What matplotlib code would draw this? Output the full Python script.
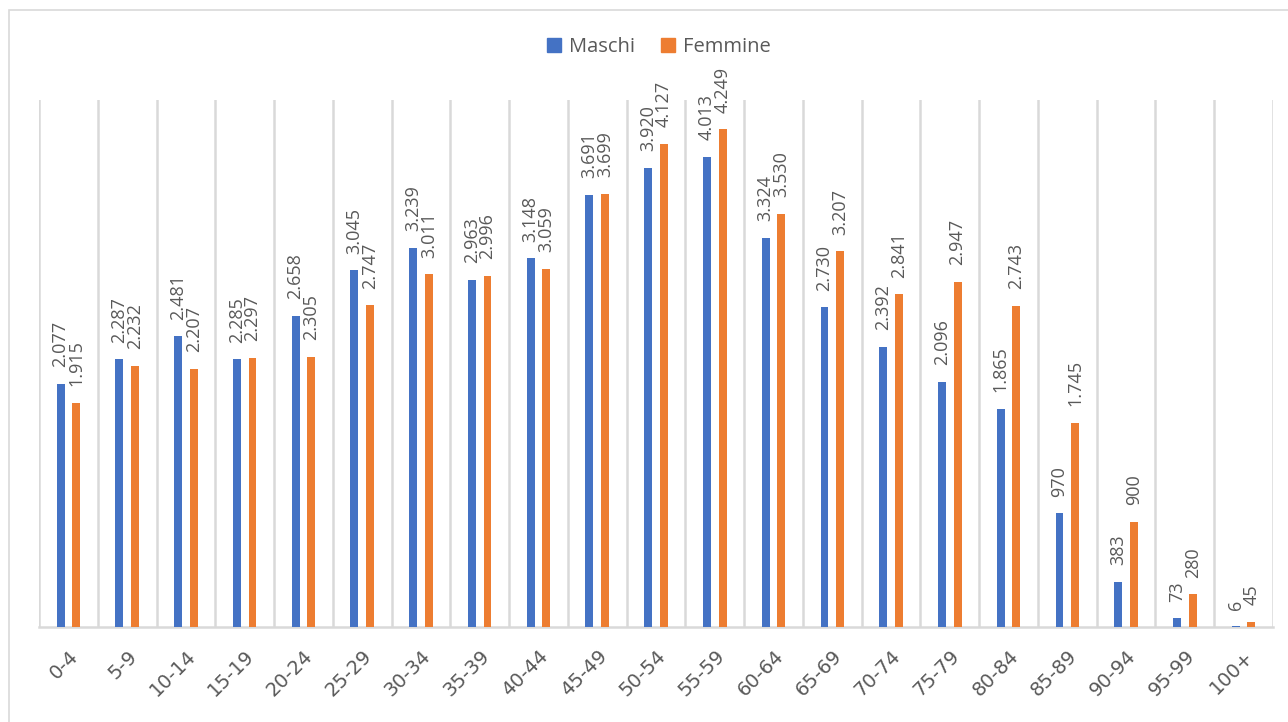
import matplotlib.pyplot as plt
import numpy as np
from matplotlib.patches import Rectangle, Patch

plt.rcParams['font.family'] = ['Open Sans', 'DejaVu Sans']

categories = ['0-4', '5-9', '10-14', '15-19', '20-24', '25-29', '30-34', '35-39',
              '40-44', '45-49', '50-54', '55-59', '60-64', '65-69', '70-74', '75-79',
              '80-84', '85-89', '90-94', '95-99', '100+']
maschi = [2077, 2287, 2481, 2285, 2658, 3045, 3239, 2963, 3148, 3691, 3920,
          4013, 3324, 2730, 2392, 2096, 1865, 970, 383, 73, 6]
femmine = [1915, 2232, 2207, 2297, 2305, 2747, 3011, 2996, 3059, 3699, 4127,
           4249, 3530, 3207, 2841, 2947, 2743, 1745, 900, 280, 45]

blue = '#4472c4'
orange = '#ed7d31'
grey_txt = '#595959'
grid_col = '#d9d9d9'

fig = plt.figure(figsize=(12.88, 7.22), dpi=100)
ax = fig.add_axes([39 / 1288, 1 - 627 / 722, (1273 - 39) / 1288, (627 - 100) / 722])

# light border around the chart area
fig.patches.append(Rectangle((9 / 1288, -0.05), 1.1, 1 - 10 / 722 + 0.05,
                             transform=fig.transFigure, fill=False,
                             edgecolor=grid_col, linewidth=1.2))

x = np.arange(len(categories))
w = 0.135
b1 = ax.bar(x - 0.133, maschi, w, color=blue, zorder=3)
b2 = ax.bar(x + 0.133, femmine, w, color=orange, zorder=3)


def fmt(v):
    return f'{v:,}'.replace(',', '.')


for bars, vals in ((b1, maschi), (b2, femmine)):
    for r, v in zip(bars, vals):
        ax.annotate(fmt(v), (r.get_x() + r.get_width() / 2, v),
                    xytext=(0, 12), textcoords='offset points',
                    rotation=90, ha='center', va='bottom',
                    fontsize=13, color=grey_txt)

for i in range(len(categories) + 1):
    ax.axvline(i - 0.5, color=grid_col, linewidth=1.8, zorder=1)

ax.set_xlim(-0.5, len(categories) - 0.5)
ax.set_ylim(0, 4500)
ax.set_yticks([])
for s in ['top', 'right', 'left']:
    ax.spines[s].set_visible(False)
ax.spines['bottom'].set_color(grid_col)
ax.spines['bottom'].set_linewidth(1.8)

ax.set_xticks(x)
ax.set_xticklabels(categories, rotation=45, ha='right', rotation_mode='anchor',
                   fontsize=14, color=grey_txt, family='DejaVu Sans')
ax.tick_params(axis='x', length=0, pad=14)

handles = [Patch(color=blue, label='Maschi'), Patch(color=orange, label='Femmine')]
fig.legend(handles=handles, loc='center', bbox_to_anchor=(659 / 1288, 1 - 47 / 722),
           ncol=2, frameon=False, fontsize=14.5, labelcolor=grey_txt,
           handlelength=0.7, handleheight=0.7, handletextpad=0.4, columnspacing=1.3)

fig.savefig('out.png', dpi=100)
